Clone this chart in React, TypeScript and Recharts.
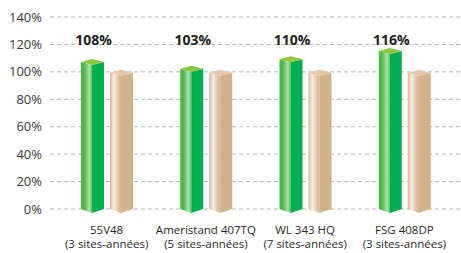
import React from 'react';
import { BarChart, Bar, XAxis, YAxis, CartesianGrid, LabelList } from 'recharts';

const categories = ['55V48', 'Ameristand 407TQ', 'WL 343 HQ', 'FSG 408DP'];
const siteYears = ['(3 sites-années)', '(5 sites-années)', '(7 sites-années)', '(3 sites-années)'];
const greenValues = [108, 103, 110, 116];
const tanValues = [100, 100, 100, 100];
const yTicks = [0, 20, 40, 60, 80, 100, 120, 140];

const data = categories.map((c, i) => ({
  name: c,
  green: greenValues[i],
  tan: tanValues[i],
}));

const FONT = '"Open Sans", "Noto Sans", sans-serif';

type Pal = {
  id: string;
  stops: [number, string][];
  right: string;
  top: string;
};

const GREEN: Pal = {
  id: 'g',
  stops: [
    [0, '#4cb848'],
    [0.3, '#4fba4b'],
    [0.6, '#8fd189'],
    [0.75, '#b2e0ac'],
    [0.9, '#7fcb78'],
    [1, '#5cc055'],
  ],
  right: '#00b04f',
  top: '#8cc63f',
};

const TAN: Pal = {
  id: 't',
  stops: [
    [0, '#d4b58f'],
    [0.15, '#e3cfb7'],
    [0.35, '#f5ede4'],
    [0.6, '#e8d6c2'],
    [0.85, '#dabd9b'],
    [1, '#d4b58f'],
  ],
  right: '#d3b38c',
  top: '#e2c9ab',
};

const Prism = (props: any) => {
  const { x, y, width, height, index, pal } = props;
  if (x == null || y == null) return null;
  const w = width;
  const xm = x + w * 0.48;
  const yb = y + height;
  const d = 3;
  const yt = y - 2;
  const gid = `grad-${pal.id}-${index}`;
  const pts = (arr: number[][]) => arr.map((p) => p.join(',')).join(' ');
  return (
    <g>
      <defs>
        <linearGradient id={gid} x1="0" y1="0" x2="1" y2="0">
          {pal.stops.map(([o, c]: [number, string], i: number) => (
            <stop key={i} offset={o} stopColor={c} />
          ))}
        </linearGradient>
      </defs>
      <polygon
        points={pts([
          [x, yt + d],
          [xm, yt + 2 * d],
          [xm, yb + 4],
          [x, yb],
        ])}
        fill={`url(#${gid})`}
      />
      <polygon
        points={pts([
          [xm, yt + 2 * d],
          [x + w, yt + d],
          [x + w, yb],
          [xm, yb + 4],
        ])}
        fill={pal.right}
      />
      <polygon
        points={pts([
          [x, yt + d],
          [xm, yt],
          [x + w, yt + d],
          [xm, yt + 2 * d],
        ])}
        fill={pal.top}
      />
    </g>
  );
};

const XTick = (props: any) => {
  const { x, y, payload, index } = props;
  return (
    <g>
      <text x={x} y={y + 17} textAnchor="middle" fontSize={11.5} fill="#2b2b2b" fontFamily={FONT}>
        {payload.value}
      </text>
      <text x={x} y={y + 31} textAnchor="middle" fontSize={11.5} fill="#2b2b2b" fontFamily={FONT}>
        {siteYears[index]}
      </text>
    </g>
  );
};

const TopLabel = (props: any) => {
  const { x, width, value } = props;
  return (
    <text
      x={Number(x) + Number(width) / 2 + 1}
      y={44.5}
      textAnchor="middle"
      fontSize={14}
      fontWeight="bold"
      fill="#231f20"
      fontFamily={FONT}
    >
      {value}%
    </text>
  );
};

export default function App() {
  return (
    <div style={{ width: 461, height: 253 }}>
      <style>{'body{margin:0}'}</style>
      <BarChart
        width={461}
        height={253}
        data={data}
        margin={{ top: 17, right: 0, bottom: 0, left: 0 }}
        barSize={23}
        barGap={6}
      >
        <CartesianGrid vertical={false} strokeDasharray="4 3" stroke="#b8b8b8" />
        <XAxis
          dataKey="name"
          axisLine={false}
          tickLine={false}
          height={44}
          padding={{ left: 7, right: 7 }}
          tick={<XTick />}
          interval={0}
        />
        <YAxis
          domain={[0, 140]}
          ticks={yTicks}
          tickFormatter={(v: number) => `${v}%`}
          axisLine={false}
          tickLine={false}
          width={50}
          tick={{ fontSize: 13, fill: '#3a3a3a', fontFamily: FONT }}
        />
        <Bar dataKey="green" isAnimationActive={false} shape={(p: any) => <Prism {...p} pal={GREEN} />}>
          <LabelList dataKey="green" content={<TopLabel />} />
        </Bar>
        <Bar dataKey="tan" isAnimationActive={false} shape={(p: any) => <Prism {...p} pal={TAN} />} />
      </BarChart>
    </div>
  );
}
